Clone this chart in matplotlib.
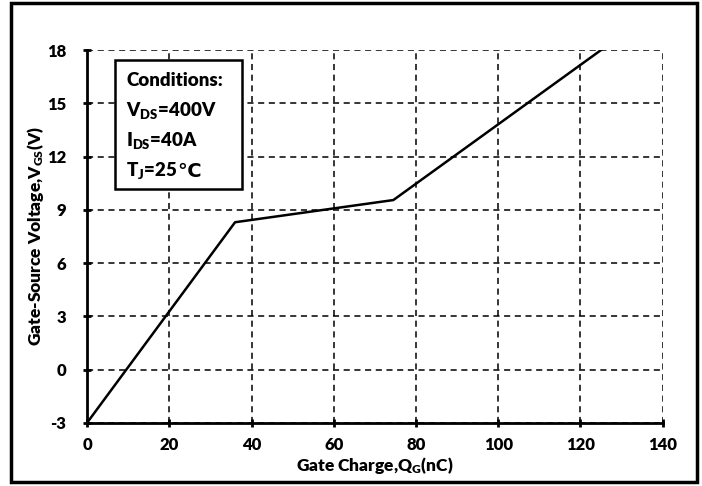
import matplotlib
matplotlib.use('Agg')
import matplotlib.pyplot as plt
from matplotlib.patches import Rectangle

# gate charge curve
qg = [0, 36, 74.5, 125]
vgs = [-3, 8.3, 9.55, 18]
xticks = [0, 20, 40, 60, 80, 100, 120, 140]
yticks = [-3, 0, 3, 6, 9, 12, 15, 18]
cond_lines = ['Conditions:', 'V$_{DS}$=400V', 'I$_{DS}$=40A', 'T$_{J}$=25']

W = 'heavy'
plt.rcParams['font.family'] = ['Lato', 'DejaVu Sans']
plt.rcParams['font.weight'] = W
plt.rcParams['axes.unicode_minus'] = False
plt.rcParams['mathtext.fontset'] = 'custom'
plt.rcParams['mathtext.rm'] = 'Lato:heavy'
plt.rcParams['mathtext.it'] = 'Lato:heavy'
plt.rcParams['mathtext.bf'] = 'Lato:heavy'

fig = plt.figure(figsize=(7.02, 4.86), dpi=100)
ax = fig.add_axes([0.124, 0.13, 0.82, 0.767])

ax.plot(qg, vgs, color='k', lw=1.8, zorder=3)

ax.set_xlim(0, 140)
ax.set_ylim(-3, 18)
ax.set_xticks(xticks)
ax.set_yticks(yticks)
ax.set_xticklabels([str(v) for v in xticks], fontsize=12, fontweight=W)
ax.set_yticklabels([str(v) for v in yticks], fontsize=12, fontweight=W)
ax.grid(True, color='k', ls=(0, (4, 3)), lw=1.1)
for s in ['top', 'right']:
    ax.spines[s].set_visible(False)
for s in ['left', 'bottom']:
    ax.spines[s].set_linewidth(2)
ax.tick_params(direction='inout', length=6, width=2)
ax.tick_params(axis='y', pad=12)
ax.tick_params(axis='x', pad=7)

ax.set_xlabel('Gate Charge,Q$_{G}$(nC)', fontsize=12.5, fontweight=W, labelpad=2)
ax.set_ylabel('Gate-Source Voltage,V$_{GS}$(V)', fontsize=12.5, fontweight=W, labelpad=1)

# conditions box
ax.add_patch(Rectangle((6.8, 10.2), 30.9, 7.25, facecolor='white', edgecolor='k',
                       lw=1.8, zorder=4))
ys = [16.3, 14.6, 12.9, 11.2]
txt = None
for t, y in zip(cond_lines, ys):
    txt = ax.text(9.5, y, t, fontsize=13.5, fontweight=W, va='center', ha='left', zorder=5)
ax.annotate('℃', xy=(1, 0), xycoords=txt, va='bottom', ha='left', fontsize=14,
            fontweight='bold', family='DejaVu Sans', zorder=5)

# outer frame
fig.patches.append(Rectangle((0.015, 0.008), 0.978, 0.985, transform=fig.transFigure,
                             fill=False, edgecolor='k', lw=2.5))

fig.savefig('out.png', dpi=100)
